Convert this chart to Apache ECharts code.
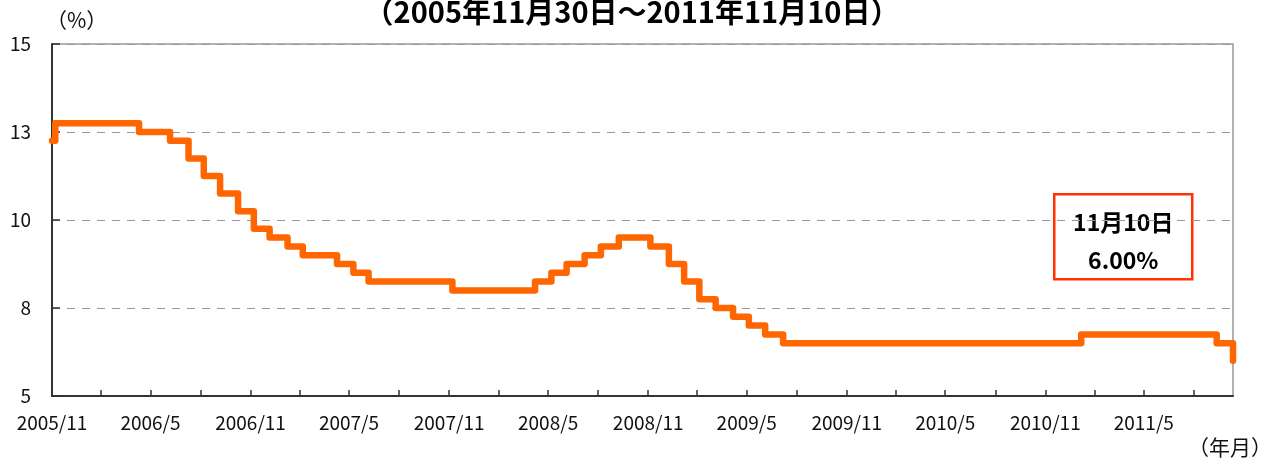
<!DOCTYPE html>
<html>
<head>
<meta charset="utf-8">
<script src="https://cdn.jsdelivr.net/npm/echarts@6/dist/echarts.min.js"></script>
<style>
  html, body { margin: 0; padding: 0; background: #fff; }
  #main { width: 1264px; height: 463px; }
</style>
</head>
<body>
<div id="main"></div>
<script>
// 政策金利の変更日と水準（%）
var changeDates = ['2005-11-30', '2005-12-06', '2006-05-09', '2006-07-05', '2006-08-08', '2006-09-05',
    '2006-10-05', '2006-11-07', '2006-12-06', '2007-01-04', '2007-02-06', '2007-03-06', '2007-05-08',
    '2007-06-07', '2007-07-05', '2007-12-06', '2008-05-06', '2008-06-05', '2008-07-03', '2008-08-05',
    '2008-09-04', '2008-10-07', '2008-12-04', '2009-01-07', '2009-02-04', '2009-03-04', '2009-04-03',
    '2009-05-05', '2009-06-03', '2009-07-03', '2009-08-05', '2011-02-04', '2011-10-11', '2011-11-10'];
var rates = [12.25, 12.75, 12.50, 12.25, 11.75, 11.25,
    10.75, 10.25, 9.75, 9.50, 9.25, 9.00, 8.75,
    8.50, 8.25, 8.00, 8.25, 8.50, 8.75, 9.00,
    9.25, 9.50, 9.25, 8.75, 8.25, 7.75, 7.50,
    7.25, 7.00, 6.75, 6.50, 6.75, 6.50, 6.00];

var xTickLabels = ['2005/11', '2006/5', '2006/11', '2007/5', '2007/11', '2008/5', '2008/11',
    '2009/5', '2009/11', '2010/5', '2010/11', '2011/5'];
var yTickLabels = ['5', '8', '10', '13', '15'];

var startDate = '2005-11-30', endDate = '2011-11-10';
var FONT = '"Noto Sans CJK JP", sans-serif';
var DAY = 86400000;

function toTime(s) {
    var p = s.split('-');
    return Date.UTC(+p[0], +p[1] - 1, +p[2]);
}
var t0 = toTime(startDate);
function toDay(s) { return Math.round((toTime(s) - t0) / DAY); }
function tickDay(y, m) {
    // 目盛りは各月の30日（2月は月末）
    var last = new Date(Date.UTC(y, m, 0)).getUTCDate();
    return Math.round((Date.UTC(y, m - 1, Math.min(30, last)) - t0) / DAY);
}

// 目盛り：3ヶ月ごと、ラベル：6ヶ月ごと
var labelValues = [], tickValues = [], labelText = {};
xTickLabels.forEach(function (t) {
    var p = t.split('/');
    var y = +p[0], m = +p[1];
    var d = tickDay(y, m);
    labelValues.push(d);
    labelText[d] = t;
    tickValues.push(d);
    var m2 = m + 3, y2 = y;
    if (m2 > 12) { m2 -= 12; y2++; }
    tickValues.push(tickDay(y2, m2));
});

var seriesData = changeDates.map(function (d, i) {
    return [toDay(d), rates[i]];
});

var chart = echarts.init(document.getElementById('main'));
var option = {
    animation: false,
    backgroundColor: '#fff',
    textStyle: { fontFamily: FONT },
    title: {
        text: '（2005年11月30日～2011年11月10日）',
        left: 'center',
        top: -8,
        textStyle: { fontFamily: FONT, fontSize: 29, fontWeight: 'bold', color: '#000' }
    },
    grid: {
        left: 52, right: 31, top: 44, bottom: 67,
        show: true, borderColor: '#999', borderWidth: 1.5
    },
    xAxis: {
        type: 'value',
        min: 0,
        max: toDay(endDate),
        axisLine: { lineStyle: { color: '#333', width: 2 } },
        axisTick: { inside: true, length: 6, customValues: tickValues, lineStyle: { color: '#333', width: 1.5 } },
        axisLabel: {
            customValues: labelValues,
            margin: 17,
            fontSize: 19,
            color: '#111',
            fontFamily: FONT,
            formatter: function (v) { return labelText[v] || ''; }
        },
        splitLine: { show: false }
    },
    yAxis: {
        type: 'value',
        min: 5, max: 15, interval: 2.5,
        axisLine: { show: true, lineStyle: { color: '#333', width: 2 } },
        axisTick: { show: true, inside: true, length: 8, lineStyle: { color: '#333', width: 1.5 } },
        axisLabel: {
            margin: 21, fontSize: 19, color: '#111', fontFamily: FONT,
            formatter: function (v, i) { return yTickLabels[i]; }
        },
        splitLine: { show: true, lineStyle: { color: '#999', type: [8, 7], width: 1.2 } }
    },
    series: [{
        type: 'line',
        step: 'end',
        showSymbol: false,
        data: seriesData,
        lineStyle: { color: '#ff6600', width: 6.5, cap: 'round', join: 'round' }
    }],
    graphic: [
        {
            type: 'text', left: 46, top: 10,
            style: { text: '（%）', fontFamily: FONT, fontSize: 21, fill: '#111' }
        },
        {
            type: 'text', right: -8, top: 437,
            style: { text: '（年月）', fontFamily: FONT, fontSize: 21, fill: '#111' }
        },
        {
            type: 'group', left: 1053, top: 193, z: 100,
            children: [
                {
                    type: 'rect',
                    shape: { x: 0, y: 0, width: 138, height: 85 },
                    style: { fill: '#fff', stroke: '#ff3300', lineWidth: 2.5 }
                },
                {
                    type: 'text', x: 69, y: 47,
                    style: {
                        text: '11月10日\n6.00%',
                        align: 'center', verticalAlign: 'middle',
                        lineHeight: 38,
                        fontFamily: FONT, fontSize: 23, fontWeight: 'bold', fill: '#000'
                    }
                }
            ]
        }
    ]
};
chart.setOption(option);
</script>
</body>
</html>
